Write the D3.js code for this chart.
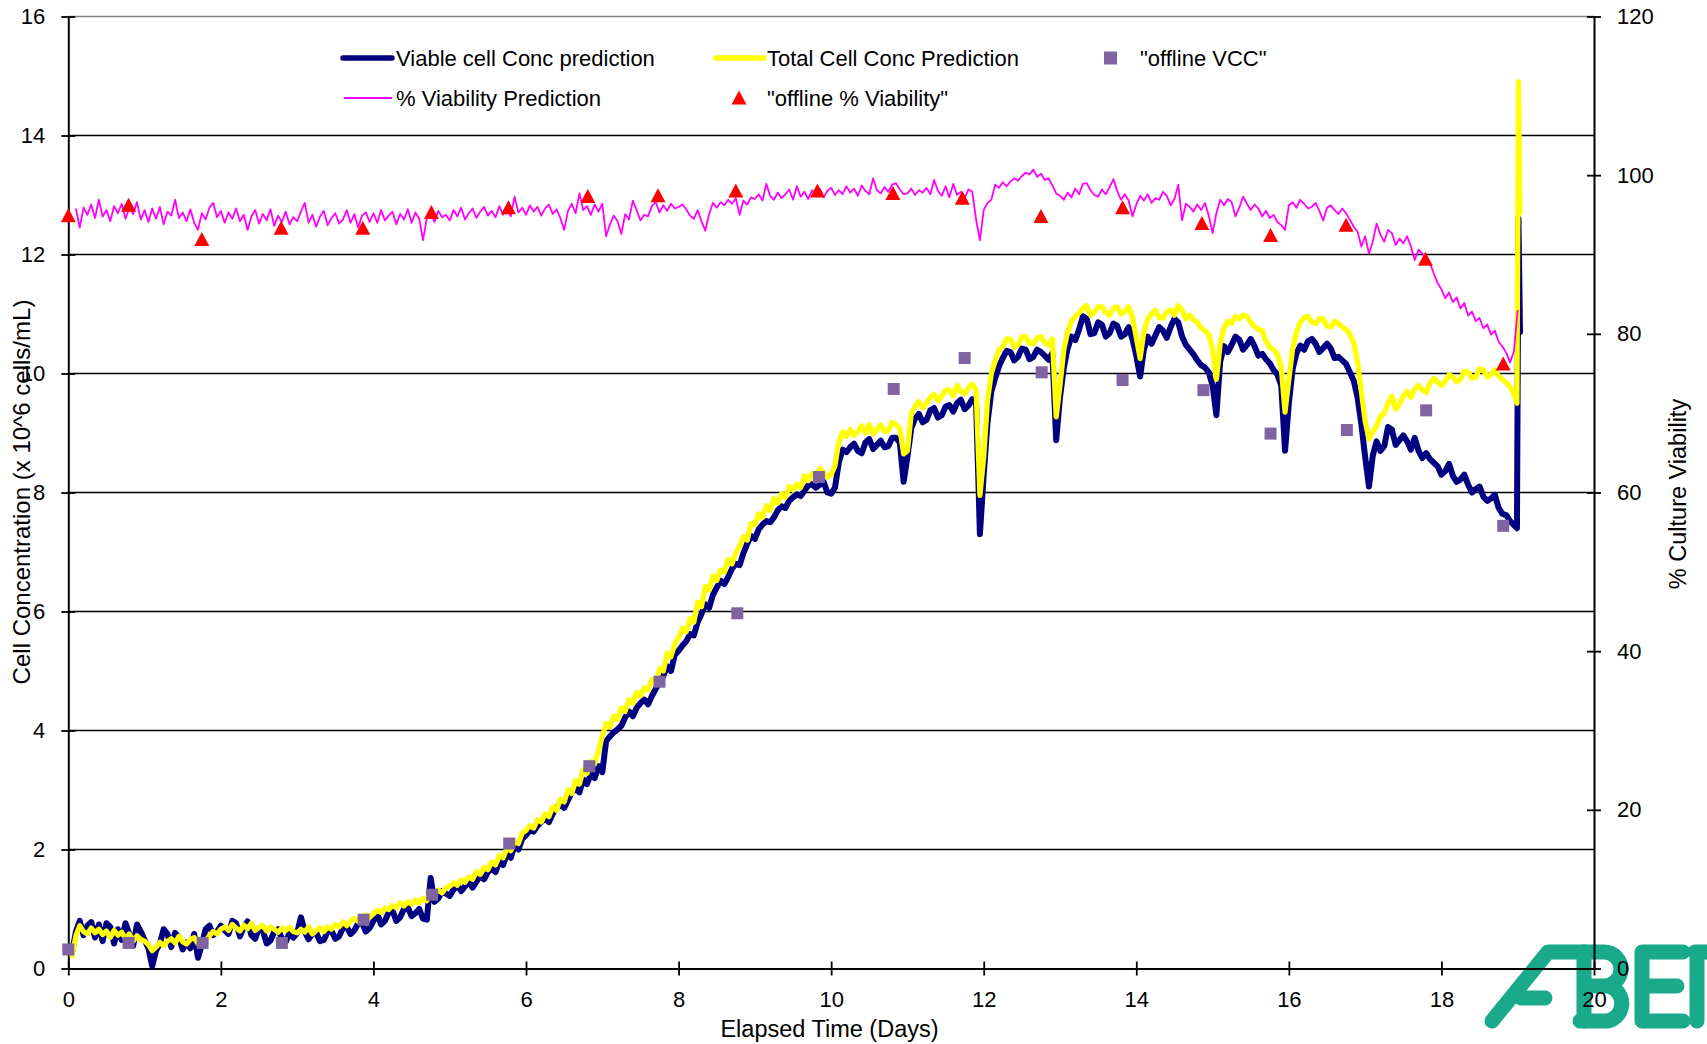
<!DOCTYPE html>
<html>
<head>
<meta charset="utf-8">
<script src="https://cdn.jsdelivr.net/npm/d3@7"></script>
<style>
  body { margin: 0; background: #fff; }
  svg { display: block; }
  text { font-family: "Liberation Sans", Arial, Helvetica, sans-serif; fill: #000; }
</style>
</head>
<body>
<svg id="chart" width="1707" height="1044"></svg>
<script>
// ---- Data ---------------------------------------------------------------
// Online predictions, cell concentration (x 10^6 cells/mL), sampled every 0.05 day from day 0.05
const CELL_T0 = 0.05, CELL_DT = 0.05;
const vccPrediction = [
  0.28, 0.62, 0.80, 0.56, 0.72, 0.78, 0.52, 0.74, 0.46, 0.76, 0.70, 0.42, 0.66, 0.48, 0.76, 0.58, 0.38, 0.74, 0.62,
  0.48, 0.34, 0.04, 0.30, 0.42, 0.66, 0.58, 0.36, 0.60, 0.52, 0.32, 0.44, 0.34, 0.58, 0.18, 0.40, 0.66, 0.72, 0.56, 0.62,
  0.72, 0.64, 0.58, 0.80, 0.76, 0.54, 0.70, 0.79, 0.56, 0.50, 0.68, 0.64, 0.42, 0.47, 0.62, 0.66, 0.50, 0.45, 0.60, 0.52,
  0.60, 0.86, 0.62, 0.49, 0.58, 0.60, 0.46, 0.48, 0.62, 0.63, 0.50, 0.54, 0.68, 0.70, 0.58, 0.64, 0.76, 0.77, 0.62, 0.68,
  0.80, 0.92, 0.74, 0.80, 0.94, 0.97, 0.80, 0.86, 1.00, 1.03, 0.88, 0.93, 1.00, 0.84, 0.82, 1.52, 1.12, 1.18, 1.30, 1.26,
  1.22, 1.33, 1.40, 1.30, 1.38, 1.46, 1.36, 1.46, 1.56, 1.50, 1.62, 1.68, 1.62, 1.80, 1.74, 1.93, 1.86, 2.07, 2.00, 2.18,
  2.24, 2.32, 2.30, 2.40, 2.46, 2.52, 2.46, 2.60, 2.70, 2.77, 2.70, 2.83, 2.96, 3.02, 2.96, 3.18, 3.10, 3.27, 3.20, 3.40,
  3.30, 3.82, 3.90, 3.97, 4.02, 4.08, 4.22, 4.32, 4.24, 4.38, 4.46, 4.52, 4.44, 4.58, 4.70, 4.80, 4.92, 5.08, 5.00, 5.27,
  5.34, 5.43, 5.50, 5.62, 5.60, 5.82, 5.96, 6.12, 6.06, 6.28, 6.40, 6.52, 6.46, 6.58, 6.72, 6.80, 6.78, 6.98, 7.14, 7.27,
  7.22, 7.38, 7.46, 7.52, 7.50, 7.58, 7.70, 7.77, 7.74, 7.86, 7.92, 7.97, 7.94, 8.03, 8.12, 8.14, 8.08, 8.13, 8.18, 8.00,
  7.98, 8.08, 8.50, 8.72, 8.68, 8.76, 8.82, 8.70, 8.66, 8.84, 8.90, 8.73, 8.80, 8.87, 8.76, 8.78, 8.92, 8.92, 8.84, 8.18,
  8.60, 9.08, 9.24, 9.32, 9.18, 9.22, 9.38, 9.42, 9.26, 9.30, 9.44, 9.47, 9.36, 9.50, 9.56, 9.40, 9.46, 9.57, 9.50, 7.30,
  8.30, 9.18, 9.70, 9.92, 10.12, 10.26, 10.38, 10.36, 10.22, 10.28, 10.42, 10.40, 10.24, 10.28, 10.40, 10.36, 10.30, 10.23, 10.34, 8.88,
  9.60, 10.10, 10.42, 10.62, 10.56, 10.74, 10.96, 10.92, 10.66, 10.68, 10.86, 10.82, 10.62, 10.68, 10.84, 10.80, 10.62, 10.66, 10.78, 10.58,
  10.30, 9.95, 10.40, 10.62, 10.50, 10.64, 10.78, 10.72, 10.60, 10.78, 10.92, 10.86, 10.62, 10.48, 10.40, 10.32, 10.22, 10.14, 10.10, 10.02,
  9.80, 9.30, 10.20, 10.46, 10.36, 10.48, 10.62, 10.57, 10.40, 10.48, 10.58, 10.46, 10.30, 10.33, 10.24, 10.17, 10.06, 9.98, 9.80, 8.70,
  9.50, 10.08, 10.34, 10.47, 10.40, 10.54, 10.58, 10.50, 10.36, 10.43, 10.50, 10.42, 10.26, 10.28, 10.22, 10.16, 10.02, 9.88, 9.60, 9.15,
  8.60, 8.10, 8.62, 8.86, 8.70, 8.78, 9.10, 9.06, 8.80, 8.88, 8.96, 8.86, 8.72, 8.92, 8.70, 8.58, 8.66, 8.56, 8.50, 8.44,
  8.30, 8.36, 8.48, 8.28, 8.18, 8.22, 8.30, 8.13, 8.00, 8.06, 8.10, 7.93, 7.86, 7.90, 7.96, 7.74, 7.64, 7.62, 7.52, 7.45
];
const tccPrediction = [
  0.22, 0.55, 0.72, 0.62, 0.58, 0.68, 0.60, 0.66, 0.57, 0.63, 0.52, 0.64, 0.56, 0.61, 0.50, 0.58, 0.46, 0.55, 0.49,
  0.46, 0.40, 0.30, 0.36, 0.44, 0.38, 0.46, 0.50, 0.43, 0.54, 0.45, 0.41, 0.49, 0.52, 0.42, 0.38, 0.47, 0.55, 0.62, 0.58,
  0.66, 0.70, 0.64, 0.74, 0.68, 0.63, 0.73, 0.67, 0.76, 0.64, 0.69, 0.72, 0.63, 0.70, 0.66, 0.61, 0.68, 0.64, 0.69, 0.62,
  0.60, 0.66, 0.61, 0.70, 0.58, 0.64, 0.69, 0.62, 0.70, 0.66, 0.74, 0.70, 0.78, 0.72, 0.80, 0.84, 0.79, 0.86, 0.90, 0.86,
  0.92, 0.98, 0.94, 1.02, 0.99, 1.06, 1.02, 1.10, 1.05, 1.12, 1.08, 1.15, 1.10, 1.18, 1.14, 1.28, 1.24, 1.32, 1.27, 1.36,
  1.38, 1.44, 1.40, 1.49, 1.45, 1.54, 1.50, 1.63, 1.58, 1.70, 1.66, 1.79, 1.74, 1.90, 1.86, 2.02, 1.98, 2.14, 2.10, 2.28,
  2.32, 2.40, 2.36, 2.50, 2.46, 2.60, 2.55, 2.72, 2.66, 2.84, 2.80, 3.00, 2.94, 3.16, 3.10, 3.34, 3.28, 3.48, 3.44, 3.66,
  3.90, 4.12, 4.06, 4.24, 4.18, 4.38, 4.32, 4.52, 4.46, 4.64, 4.58, 4.72, 4.68, 4.86, 4.80, 5.04, 5.00, 5.30, 5.24, 5.46,
  5.56, 5.72, 5.66, 5.88, 5.82, 6.16, 6.08, 6.42, 6.36, 6.60, 6.52, 6.70, 6.66, 6.88, 6.80, 6.98, 7.10, 7.26, 7.20, 7.48,
  7.46, 7.64, 7.58, 7.78, 7.70, 7.90, 7.82, 7.98, 7.92, 8.10, 8.04, 8.14, 8.08, 8.28, 8.20, 8.32, 8.26, 8.40, 8.34, 8.26,
  8.30, 8.45, 8.85, 9.02, 8.94, 9.06, 8.96, 9.02, 9.12, 9.00, 9.14, 8.98, 9.06, 9.14, 9.02, 9.04, 9.18, 9.14, 9.08, 8.65,
  8.70, 9.32, 9.45, 9.53, 9.42, 9.50, 9.60, 9.65, 9.54, 9.62, 9.72, 9.72, 9.62, 9.80, 9.70, 9.66, 9.76, 9.82, 9.72, 7.95,
  8.60, 9.55, 10.00, 10.22, 10.40, 10.45, 10.58, 10.58, 10.44, 10.48, 10.62, 10.62, 10.50, 10.50, 10.60, 10.62, 10.52, 10.48, 10.58, 9.27,
  9.80, 10.40, 10.70, 10.88, 10.96, 11.02, 11.10, 11.14, 10.98, 11.03, 11.12, 11.12, 11.02, 10.98, 11.10, 11.12, 11.00, 11.04, 11.12, 10.95,
  10.60, 10.25, 10.70, 10.92, 11.00, 11.06, 10.94, 10.93, 11.04, 11.07, 10.98, 11.14, 11.06, 10.92, 10.98, 10.90, 10.86, 10.76, 10.72, 10.66,
  10.40, 9.90, 10.50, 10.77, 10.88, 10.84, 10.96, 10.92, 10.98, 10.96, 10.86, 10.79, 10.74, 10.72, 10.54, 10.44, 10.40, 10.32, 10.10, 9.35,
  9.90, 10.42, 10.70, 10.86, 10.94, 10.96, 10.86, 10.84, 10.92, 10.92, 10.80, 10.78, 10.88, 10.84, 10.78, 10.74, 10.66, 10.52, 10.20, 9.70,
  9.20, 8.90, 9.02, 9.12, 9.28, 9.33, 9.50, 9.62, 9.40, 9.48, 9.62, 9.70, 9.60, 9.74, 9.80, 9.72, 9.68, 9.84, 9.92, 9.86,
  9.80, 9.87, 9.98, 9.94, 9.86, 9.91, 10.04, 10.02, 9.92, 9.94, 10.08, 10.06, 9.94, 9.98, 10.06, 9.96, 9.90, 9.84, 9.78, 9.65
];
// Final readings after the last grid sample (probe spike at harvest)
const cellTailDays = [18.99, 19.01, 19.03];
const vccTail = [7.40, 12.60, 10.70];
const tccTail = [9.50, 14.90, 12.70];

// % viability prediction, sampled every 0.05 day from day 0.10
const VIAB_T0 = 0.10, VIAB_DT = 0.05;
const viabilityPrediction = [
  95.8, 93.4, 95.9, 95.0, 96.3, 94.6, 96.9, 94.8, 95.6, 94.2, 96.1, 95.2, 96.4, 94.5, 95.9, 95.1, 96.6, 94.4,
  95.6, 94.1, 95.8, 94.5, 96.0, 93.8, 95.4, 94.9, 96.9, 94.6, 95.3, 94.2, 95.7, 94.0, 93.1, 95.2, 94.4, 95.9, 96.5, 94.7,
  95.5, 94.0, 95.3, 94.5, 95.8, 94.2, 95.0, 93.1, 94.8, 95.6, 93.9, 95.1, 94.3, 95.7, 93.6, 94.9, 94.1, 95.4, 93.8, 94.7,
  94.2, 95.4, 96.5, 94.0, 95.0, 93.5, 94.8, 95.5, 93.7, 94.6, 95.2, 93.9, 94.4, 95.6, 94.0, 95.1, 93.4, 94.9, 95.3, 94.1,
  95.2, 94.0, 95.6, 94.3, 94.9, 95.4, 93.8, 95.1, 94.4, 95.7, 94.0, 95.3, 94.5, 91.8, 94.6, 95.2, 94.1, 95.5, 94.7, 95.0,
  94.3, 95.6, 94.8, 95.9, 94.4, 95.2, 95.8, 94.6, 95.4, 96.0, 94.9, 95.5, 94.7, 96.1, 95.0, 95.7, 94.8, 97.3, 95.3, 95.9,
  95.0, 96.2, 95.4, 96.0, 94.9, 95.8, 96.3, 95.1, 95.7, 94.6, 93.1, 95.5, 96.4, 95.2, 97.7, 95.6, 96.1, 95.0, 96.3, 95.4,
  96.4, 92.3, 93.8, 94.9, 94.2, 92.6, 95.1, 94.4, 96.8, 95.6, 94.3, 95.0, 94.8, 96.1, 96.6, 95.3, 96.2, 95.5, 96.4, 95.8,
  96.0, 96.3, 95.7, 94.9, 94.5, 95.6, 94.2, 93.0, 95.1, 96.5, 95.9, 96.6, 96.2, 96.9, 96.4, 97.1, 95.0, 96.8, 96.3, 97.2,
  97.0, 97.6, 96.8, 98.9, 97.4, 96.9, 97.8, 97.1, 97.6, 98.2, 96.9, 98.6, 97.3, 97.9, 97.0, 98.1, 97.5, 98.3, 97.2, 98.0,
  98.4, 97.5, 98.1, 97.6, 98.6, 97.8, 98.3, 97.4, 98.7, 98.0, 97.6, 99.6, 98.1, 97.7, 98.5, 97.9, 98.8, 99.0, 98.2, 97.6,
  97.7, 98.3, 97.5, 98.1, 97.8, 98.4, 97.6, 99.4, 98.0, 97.4, 98.6, 97.2, 98.9, 97.5, 97.9, 97.1, 98.2, 97.9, 94.4, 91.8,
  95.6, 96.5, 96.9, 98.8, 98.4, 99.1, 98.6, 99.2, 99.6, 99.3, 99.9, 100.3, 100.1, 100.7, 99.8, 100.2, 99.4, 99.6, 98.7, 97.7,
  97.4, 96.9, 97.8, 97.2, 98.3, 97.6, 98.9, 99.0, 98.1, 97.5, 97.3, 98.2, 97.6, 98.5, 99.5, 98.0, 96.9, 97.6, 96.8, 94.8,
  96.3, 97.4, 96.8, 97.6, 96.5, 97.1, 96.9, 97.9, 97.4, 96.2, 97.0, 98.8, 94.3, 96.4, 96.0, 95.4, 96.3, 95.6, 96.5, 94.9,
  92.7, 95.2, 96.9, 96.2, 97.0, 96.6, 94.8, 95.9, 97.3, 96.4, 95.6, 96.3, 95.8, 94.8, 95.5, 94.6, 95.0, 94.1, 93.7, 93.1,
  96.2, 96.6, 95.9, 96.9, 96.4, 95.8, 96.0, 96.5, 95.5, 94.3, 95.9, 96.2, 95.6, 95.1, 95.8, 95.2, 94.4, 93.5, 92.9, 91.0,
  92.3, 90.1, 91.6, 93.9, 92.5, 91.6, 93.1, 92.7, 91.2, 92.0, 91.4, 92.3, 91.0, 89.3, 90.6, 90.1, 89.4, 88.9, 87.6, 86.4,
  85.6, 84.5, 85.2, 84.0, 84.6, 83.2, 83.9, 82.3, 82.8, 81.6, 82.0, 80.7, 81.2, 79.9, 80.4, 79.0, 78.4, 77.6, 76.4, 77.8
];
const viabTailDays = [19.0];
const viabilityTail = [83.0];

// Offline (at-line) samples
const offlineDays = [0.0, 0.79, 1.76, 2.80, 3.87, 4.77, 5.78, 6.83, 7.75, 8.77, 9.84, 10.82, 11.75, 12.76, 13.82, 14.88, 15.76, 16.76, 17.80, 18.81];
const offlineVCC = [0.32, 0.43, 0.43, 0.43, 0.82, 1.24, 2.10, 3.40, 4.82, 5.97, 8.26, 9.74, 10.26, 10.02, 9.89, 9.72, 8.99, 9.05, 9.38, 7.44];
const offlineViabDays = [0.0, 0.79, 1.75, 2.79, 3.86, 4.76, 5.77, 6.81, 7.73, 8.75, 9.82, 10.81, 11.72, 12.75, 13.82, 14.86, 15.76, 16.75, 17.79, 18.81];
const offlineViability = [94.9, 96.2, 91.9, 93.3, 93.3, 95.3, 95.9, 97.3, 97.4, 98.0, 98.0, 97.7, 97.1, 94.8, 95.9, 93.9, 92.4, 93.7, 89.4, 76.2];

// Axis ticks and labels
const xTicks = [0, 2, 4, 6, 8, 10, 12, 14, 16, 18, 20];
const leftTicks = [0, 2, 4, 6, 8, 10, 12, 14, 16];
const rightTicks = [0, 20, 40, 60, 80, 100, 120];
const xTitle = "Elapsed Time (Days)";
const leftTitle = "Cell Concentration  (x 10^6  cells/mL)";
const rightTitle = "% Culture Viability";
const legendLabels = {
  vcc: "Viable cell Conc prediction",
  tcc: "Total Cell Conc Prediction",
  offVcc: "\"offline VCC\"",
  viab: "% Viability Prediction",
  offViab: "\"offline % Viability\""
};

// Series colours
const C_VCC = "#000080", C_TCC = "#ffff00", C_VIAB = "#ff00ff",
      C_OFFVCC = "#8064a2", C_OFFVIAB = "#ff0000", C_LOGO = "#19a98b";

// ---- Layout -------------------------------------------------------------
const svg = d3.select("#chart");
const L = 68.3, R = 1594, T = 16.5, B = 968.5;

const x = d3.scaleLinear().domain([0, 20]).range([L, R]);
const yL = d3.scaleLinear().domain([0, 16]).range([B, T]);
const yR = d3.scaleLinear().domain([0, 120]).range([B, T]);

const cellSeries = (vals, tail) =>
  vals.map((v, i) => [CELL_T0 + CELL_DT * i, v]).concat(cellTailDays.map((d, i) => [d, tail[i]]));
const vccPts = cellSeries(vccPrediction, vccTail);
const tccPts = cellSeries(tccPrediction, tccTail);
const viabPts = viabilityPrediction.map((v, i) => [VIAB_T0 + VIAB_DT * i, v])
  .concat(viabTailDays.map((d, i) => [d, viabilityTail[i]]));

// ---- Logo (bottom-right corner mark, behind the axis labels) -------------
const logo = svg.append("g").attr("fill", "none").attr("stroke", C_LOGO)
  .attr("stroke-width", 15).attr("stroke-linecap", "round").attr("stroke-linejoin", "round");
logo.append("path").attr("d", "M1492,1021 L1548,952 L1604,952 A16,16 0 0 1 1604,986 L1590,986 L1608,986 A18,18 0 0 1 1608,1021 L1580,1021");
logo.append("path").attr("d", "M1521,998 L1545,998");
logo.append("path").attr("d", "M1584,952 L1584,1021");
logo.append("path").attr("d", "M1683,952 L1642,952 L1642,1021 L1683,1021 M1642,986 L1677,986");
logo.append("path").attr("d", "M1695,952 L1712,952 M1697,952 L1697,1021");

// ---- Gridlines & frame ---------------------------------------------------
svg.append("g").selectAll("line")
  .data(leftTicks.filter(t => t > 0 && t < 16))
  .join("line")
  .attr("x1", L).attr("x2", R)
  .attr("y1", d => yL(d)).attr("y2", d => yL(d))
  .attr("stroke", "#000").attr("stroke-width", 1.6);

svg.append("line").attr("x1", L).attr("x2", R).attr("y1", T).attr("y2", T)
  .attr("stroke", "#808080").attr("stroke-width", 1.6);

// ---- Axes ---------------------------------------------------------------
function styleAxis(g) {
  g.select(".domain").attr("stroke", "#000").attr("stroke-width", 2);
  g.selectAll(".tick line").attr("stroke", "#000").attr("stroke-width", 1.8);
  g.selectAll(".tick text").attr("font-size", 22).attr("fill", "#000")
    .attr("font-family", "'Liberation Sans', Arial, sans-serif");
}

// left axis (outer ticks with labels, inner ticks without)
svg.append("g").attr("transform", `translate(${L},0)`)
  .call(d3.axisLeft(yL).tickValues(leftTicks).tickSize(7).tickPadding(16).tickSizeOuter(0))
  .call(styleAxis);
svg.append("g").attr("transform", `translate(${L},0)`)
  .call(d3.axisLeft(yL).tickValues(leftTicks).tickSize(-7).tickFormat("").tickSizeOuter(0))
  .call(g => g.select(".domain").remove())
  .call(styleAxis);

// right axis
svg.append("g").attr("transform", `translate(${R},0)`)
  .call(d3.axisRight(yR).tickValues(rightTicks).tickSize(7).tickPadding(16).tickSizeOuter(0))
  .call(styleAxis);
svg.append("g").attr("transform", `translate(${R},0)`)
  .call(d3.axisRight(yR).tickValues(rightTicks).tickSize(-7).tickFormat("").tickSizeOuter(0))
  .call(g => g.select(".domain").remove())
  .call(styleAxis);

// bottom axis
svg.append("g").attr("transform", `translate(0,${B})`)
  .call(d3.axisBottom(x).tickValues(xTicks).tickSize(7).tickSizeOuter(0))
  .call(styleAxis)
  .call(g => g.selectAll(".tick text").attr("y", 31).attr("dy", "0.35em"));
svg.append("g").attr("transform", `translate(0,${B})`)
  .call(d3.axisBottom(x).tickValues(xTicks).tickSize(-7).tickFormat("").tickSizeOuter(0))
  .call(g => g.select(".domain").remove())
  .call(styleAxis);

// axis titles
svg.append("text").attr("x", 829.5).attr("y", 1029).attr("dy", "0.35em")
  .attr("text-anchor", "middle").attr("font-size", 23.5).text(xTitle);
svg.append("text").attr("transform", "translate(22,492) rotate(-90)").attr("dy", "0.35em")
  .attr("text-anchor", "middle").attr("font-size", 24).text(leftTitle);
svg.append("text").attr("transform", "translate(1678,494) rotate(-90)").attr("dy", "0.35em")
  .attr("text-anchor", "middle").attr("font-size", 23.5).text(rightTitle);

// ---- Series -------------------------------------------------------------
const lineL = d3.line().x(d => x(d[0])).y(d => yL(d[1]));
const lineR = d3.line().x(d => x(d[0])).y(d => yR(d[1]));

svg.append("path").datum(vccPts).attr("d", lineL)
  .attr("fill", "none").attr("stroke", C_VCC).attr("stroke-width", 6)
  .attr("stroke-linejoin", "round").attr("stroke-linecap", "round");
svg.append("path").datum(tccPts).attr("d", lineL)
  .attr("fill", "none").attr("stroke", C_TCC).attr("stroke-width", 5.2)
  .attr("stroke-linejoin", "round").attr("stroke-linecap", "round");

svg.append("g").selectAll("rect")
  .data(offlineDays.map((d, i) => [d, offlineVCC[i]]))
  .join("rect")
  .attr("x", d => x(d[0]) - 6).attr("y", d => yL(d[1]) - 6)
  .attr("width", 12).attr("height", 12).attr("fill", C_OFFVCC);

svg.append("path").datum(viabPts).attr("d", lineR)
  .attr("fill", "none").attr("stroke", C_VIAB).attr("stroke-width", 1.8)
  .attr("stroke-linejoin", "round");

const tri = "M0,-7.5 L7.5,6.5 L-7.5,6.5 Z";
svg.append("g").selectAll("path")
  .data(offlineViabDays.map((d, i) => [d, offlineViability[i]]))
  .join("path")
  .attr("transform", d => `translate(${x(d[0])},${yR(d[1])})`)
  .attr("d", tri).attr("fill", C_OFFVIAB);

// ---- Legend -------------------------------------------------------------
const leg = svg.append("g");
const row1 = 58, row2 = 98;
leg.append("line").attr("x1", 343).attr("x2", 392).attr("y1", row1).attr("y2", row1)
  .attr("stroke", C_VCC).attr("stroke-width", 5.5).attr("stroke-linecap", "round");
leg.append("text").attr("x", 396).attr("y", row1).attr("dy", "0.35em").attr("font-size", 22).text(legendLabels.vcc);
leg.append("line").attr("x1", 716).attr("x2", 764).attr("y1", row1).attr("y2", row1)
  .attr("stroke", C_TCC).attr("stroke-width", 5.5).attr("stroke-linecap", "round");
leg.append("text").attr("x", 767).attr("y", row1).attr("dy", "0.35em").attr("font-size", 22).text(legendLabels.tcc);
leg.append("rect").attr("x", 1104).attr("y", row1 - 6.5).attr("width", 13).attr("height", 13).attr("fill", C_OFFVCC);
leg.append("text").attr("x", 1140).attr("y", row1).attr("dy", "0.35em").attr("font-size", 22).text(legendLabels.offVcc);
leg.append("line").attr("x1", 344).attr("x2", 392).attr("y1", row2).attr("y2", row2)
  .attr("stroke", C_VIAB).attr("stroke-width", 1.8);
leg.append("text").attr("x", 396).attr("y", row2).attr("dy", "0.35em").attr("font-size", 22).text(legendLabels.viab);
leg.append("path").attr("transform", `translate(739,${row2})`).attr("d", tri).attr("fill", C_OFFVIAB);
leg.append("text").attr("x", 767).attr("y", row2).attr("dy", "0.35em").attr("font-size", 22).text(legendLabels.offViab);
</script>
</body>
</html>
